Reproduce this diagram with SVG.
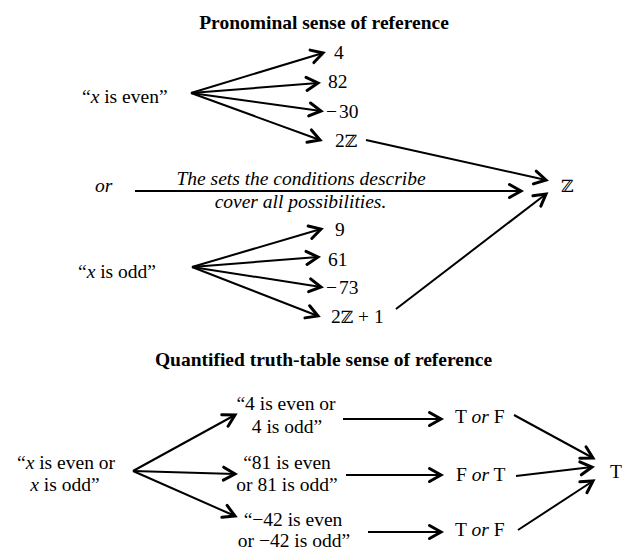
<svg xmlns="http://www.w3.org/2000/svg" width="624" height="552" viewBox="0 0 624 552">
<defs>
<marker id="ah" markerUnits="userSpaceOnUse" viewBox="0 0 15 16" refX="13" refY="8" markerWidth="15" markerHeight="16" orient="auto" overflow="visible">
<path d="M1.5,1.5 L13,8 L1.5,14.5" fill="none" stroke="#000" stroke-width="3" stroke-linejoin="miter" stroke-linecap="round"/>
</marker>
<style>
text{font-family:"Liberation Serif","Times New Roman",serif;font-size:19.5px;fill:#000}
.t{font-weight:bold;text-anchor:middle}
.m{text-anchor:middle}
.num{font-family:"Liberation Serif","DejaVu Serif",serif;font-size:19.5px}
.zz{font-family:"DejaVu Serif","Liberation Serif",serif;font-size:17px}
.i{font-style:italic}
.c line{stroke:#000;stroke-width:2;marker-end:url(#ah)}
</style>
</defs>
<rect width="624" height="552" fill="#fff"/>

<g id="title1"><text class="t" x="324" y="29">Pronominal sense of reference</text></g>
<g id="title2"><text class="t" x="323.5" y="366">Quantified truth-table sense of reference</text></g>

<g id="x-even"><text x="82" y="103">“<tspan class="i">x</tspan> is even”</text></g>
<g id="n4"><text class="num" x="334" y="59">4</text></g>
<g id="n82"><text class="num" x="328" y="88">82</text></g>
<g id="n-30"><text class="num" x="326" y="118">−<tspan dx="2">30</tspan></text></g>
<g id="n2Z"><text class="num" x="335" y="147">2<tspan class="zz">ℤ</tspan></text></g>

<g id="or"><text class="i" x="95" y="192">or</text></g>
<g id="cover-label">
<text class="m i" x="301" y="185">The sets the conditions describe</text>
<text class="m i" x="300.5" y="208">cover all possibilities.</text>
</g>
<g id="Z"><text class="zz" x="561" y="192">ℤ</text></g>

<g id="x-odd"><text x="78" y="278">“<tspan class="i">x</tspan> is odd”</text></g>
<g id="n9"><text class="num" x="335" y="236">9</text></g>
<g id="n61"><text class="num" x="328" y="266">61</text></g>
<g id="n-73"><text class="num" x="326" y="294">−<tspan dx="2">73</tspan></text></g>
<g id="n2Z1"><text class="num" x="331" y="323">2<tspan class="zz">ℤ</tspan> + 1</text></g>

<g id="x-even-or-odd">
<text class="m" x="66" y="469">“<tspan class="i">x</tspan> is even or</text>
<text class="m" x="65" y="491"><tspan class="i">x</tspan> is odd”</text>
</g>
<g id="s4">
<text class="m" x="286" y="410">“4 is even or</text>
<text class="m" x="287" y="433">4 is odd”</text>
</g>
<g id="s81">
<text class="m" x="287" y="469">“81 is even</text>
<text class="m" x="287" y="491">or 81 is odd”</text>
</g>
<g id="s-42">
<text class="m" x="293" y="526">“−42 is even</text>
<text class="m" x="294" y="547">or −42 is odd”</text>
</g>
<g id="v1"><text x="455" y="423">T <tspan class="i">or</tspan> F</text></g>
<g id="v2"><text x="456" y="481">F <tspan class="i">or</tspan> T</text></g>
<g id="v3"><text x="455" y="536">T <tspan class="i">or</tspan> F</text></g>
<g id="T"><text x="610" y="478">T</text></g>

<g id="connectors" class="c">
<line x1="191" y1="93" x2="323" y2="53"/>
<line x1="191" y1="93" x2="318" y2="83"/>
<line x1="191" y1="93" x2="321" y2="111"/>
<line x1="191" y1="93" x2="320" y2="140"/>
<line x1="366" y1="140" x2="546" y2="180"/>
<line x1="135" y1="191" x2="521" y2="191"/>
<line x1="396" y1="309" x2="546" y2="194"/>
<line x1="192" y1="267" x2="321" y2="229"/>
<line x1="192" y1="267" x2="318" y2="257"/>
<line x1="192" y1="267" x2="321" y2="287"/>
<line x1="192" y1="267" x2="318" y2="316"/>
<line x1="133" y1="471" x2="235" y2="415"/>
<line x1="133" y1="471" x2="235" y2="474"/>
<line x1="133" y1="471" x2="235" y2="516"/>
<line x1="343" y1="419" x2="441" y2="419"/>
<line x1="346" y1="475" x2="441" y2="475"/>
<line x1="368" y1="532" x2="441" y2="532"/>
<line x1="514" y1="415" x2="593" y2="458"/>
<line x1="516" y1="476" x2="592" y2="467"/>
<line x1="518" y1="530" x2="593" y2="481"/>
</g>
</svg>
